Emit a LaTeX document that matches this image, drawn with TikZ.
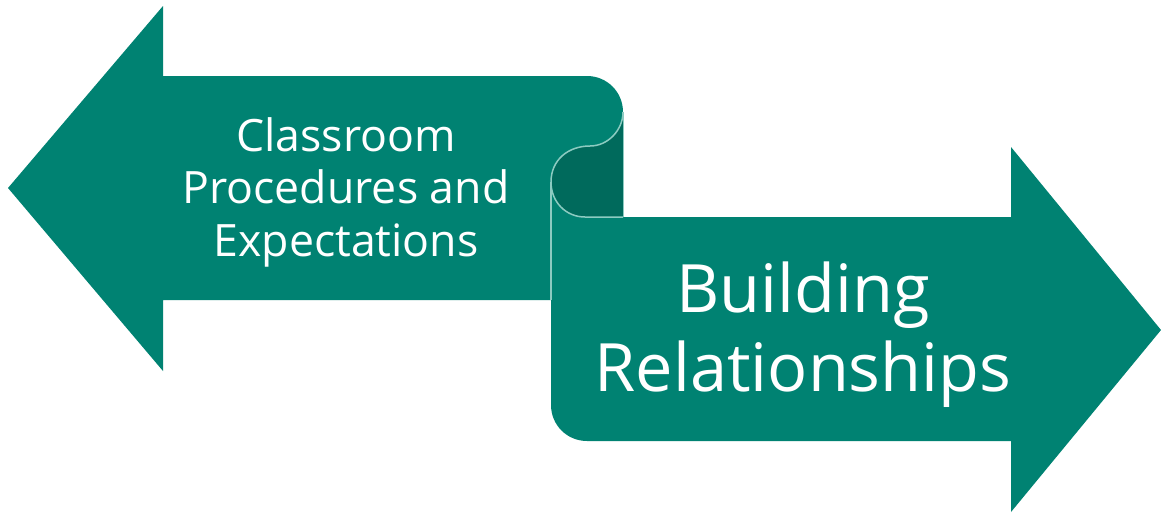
\documentclass[tikz,border=0pt]{standalone}
\usepackage{fontspec}
\setmainfont{Open Sans}
\definecolor{teal1}{HTML}{008272}
\definecolor{teal2}{HTML}{006A5C}
\definecolor{edge1}{HTML}{8CCBC1}
\tikzset{
  ribbon/.style={fill=teal1},
  fold/.style={fill=teal2},
  crease/.style={draw=edge1,line width=1.5pt},
  small label/.style={text=white,align=center,font=\fontsize{44.6}{52.5}\selectfont},
  big label/.style={text=white,align=center,font=\fontsize{66.7}{79}\selectfont}
}
\begin{document}
\begin{tikzpicture}[x=1pt,y=-1pt]
\useasboundingbox (0,0) rectangle (1161,512);
% dark fold
\path[fold] (623,112) -- (623,218) -- (551,218) -- (551,182) .. controls (551,160) and (568,146) .. (590,146) .. controls (608,146) and (623,130) .. (623,112) -- cycle;
% left arrow
\path[ribbon] (8,188) -- (163,6) -- (163,76) -- (587,76) .. controls (607,76) and (623,92) .. (623,112)
  .. controls (623,130) and (608,146) .. (590,146) .. controls (568,146) and (551,160) .. (551,182) -- (551,300) -- (163,300) -- (163,371) -- cycle;
% right arrow
\path[ribbon] (551,182) .. controls (551,202) and (566,217) .. (585,217) -- (1011,217) -- (1011,147) -- (1161,330) -- (1011,512) -- (1011,441) -- (587,441) .. controls (567,441) and (551,425) .. (551,405) -- cycle;
% creases
\draw[crease] (623,112) .. controls (623,130) and (608,146) .. (590,146) .. controls (568,146) and (551,160) .. (551,182) .. controls (551,202) and (566,217) .. (585,217) -- (623,217);
\draw[crease] (551,182) -- (551,300);
\draw[draw=edge1,line width=1pt] (623,112) -- (623,217);
\node[small label] (procedures) at (346,192) {Classroom\\Procedures and\\Expectations};
\node[big label] (relationships) at (803,335) {Building\\Relationships};
\end{tikzpicture}
\end{document}
